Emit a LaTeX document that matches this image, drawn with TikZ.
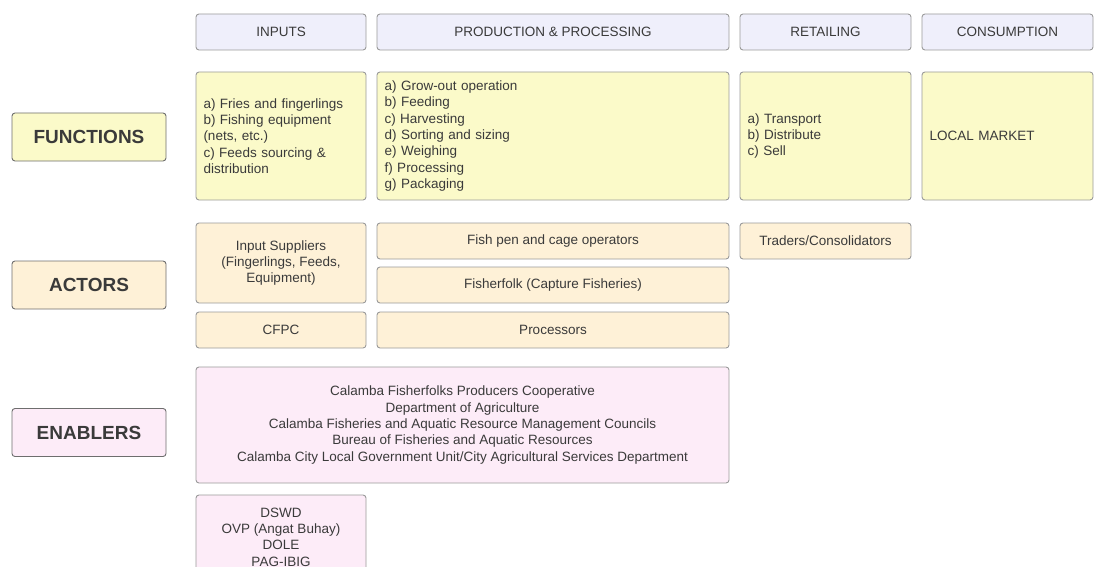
\documentclass[tikz,border=0pt]{standalone}
\usepackage{fontspec}
\setmainfont{Liberation Sans}
\definecolor{bordc}{HTML}{9A9A9A}
\definecolor{lblbord}{HTML}{6E6E6E}
\definecolor{txt}{HTML}{3A3A3A}
\definecolor{hdrfill}{HTML}{EFEFFB}
\definecolor{funfill}{HTML}{FBFAC9}
\definecolor{actfill}{HTML}{FEF1D7}
\definecolor{enafill}{HTML}{FDECF8}
\begin{document}
\begin{tikzpicture}[x=1pt,y=-1pt,
  base/.style={draw=bordc, line width=0.9pt, rounded corners=3pt, inner sep=0pt,
    text=txt, font=\fontsize{13.5}{16.3}\selectfont},
  hdr/.style={base, fill=hdrfill, minimum height=36pt},
  fun/.style={base, fill=funfill, align=left, inner xsep=7.5pt, minimum height=128pt},
  act/.style={base, fill=actfill, align=center},
  ena/.style={base, fill=enafill, align=center},
  lbl/.style={base, draw=lblbord, minimum width=154pt, minimum height=48pt,
    font=\fontsize{19}{22}\selectfont\bfseries}]
\useasboundingbox (0,0) rectangle (1094,567);
\clip (0,0) rectangle (1094,567);

% headers
\node[hdr, minimum width=170pt] (h1) at (281,32) {INPUTS};
\node[hdr, minimum width=352pt] (h2) at (553,32) {PRODUCTION \& PROCESSING};
\node[hdr, minimum width=171pt] (h3) at (825.5,32) {RETAILING};
\node[hdr, minimum width=171pt] (h4) at (1007.5,32) {CONSUMPTION};

% labels
\node[lbl, fill=funfill] (lf) at (89,137) {FUNCTIONS};
\node[lbl, fill=actfill] (la) at (89,285) {ACTORS};
\node[lbl, fill=enafill] (le) at (89,432.5) {ENABLERS};

% functions
\node[fun, text width=155pt] (f1) at (281,136) {a) Fries and fingerlings\\b) Fishing equipment\\(nets, etc.)\\c) Feeds sourcing \&\\distribution};
\node[fun, text width=337pt] (f2) at (553,136) {a) Grow-out operation\\b) Feeding\\c) Harvesting\\d) Sorting and sizing\\e) Weighing\\f) Processing\\g) Packaging};
\node[fun, text width=156pt] (f3) at (825.5,136) {a) Transport\\b) Distribute\\c) Sell};
\node[fun, text width=156pt] (f4) at (1007.5,136) {LOCAL MARKET};

% actors
\node[act, minimum width=170pt, minimum height=80pt] (a1) at (281,263) {Input Suppliers\\(Fingerlings, Feeds,\\Equipment)};
\node[act, minimum width=170pt, minimum height=36pt] (a2) at (281,330) {CFPC};
\node[act, minimum width=352pt, minimum height=36pt] (a3) at (553,241) {Fish pen and cage operators};
\node[act, minimum width=352pt, minimum height=36pt] (a4) at (553,285) {Fisherfolk (Capture Fisheries)};
\node[act, minimum width=352pt, minimum height=36pt] (a5) at (553,330) {Processors};
\node[act, minimum width=171pt, minimum height=36pt] (a6) at (825.5,241) {Traders/Consolidators};

% enablers
\node[ena, minimum width=533pt, minimum height=116pt] (e1) at (462.5,425) {Calamba Fisherfolks Producers Cooperative\\Department of Agriculture\\Calamba Fisheries and Aquatic Resource Management Councils\\Bureau of Fisheries and Aquatic Resources\\Calamba City Local Government Unit/City Agricultural Services Department};
\node[ena, minimum width=170pt, minimum height=84pt] (e2) at (281,537) {DSWD\\OVP (Angat Buhay)\\DOLE\\PAG-IBIG};
\end{tikzpicture}
\end{document}
